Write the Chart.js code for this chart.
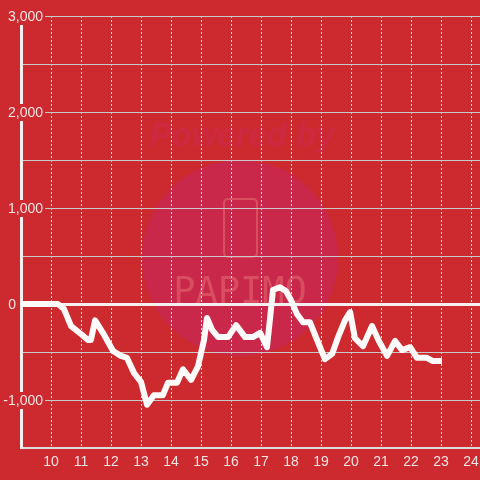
<!DOCTYPE html>
<html>
<head>
<meta charset="utf-8">
<script src="https://cdn.jsdelivr.net/npm/chart.js@4"></script>
<style>
  html, body { margin: 0; padding: 0; background: #cc2a2e; }
  #wrap { width: 480px; height: 480px; }
</style>
</head>
<body>
<div id="wrap"><canvas id="balanceChart" width="480" height="480"></canvas></div>
<script>
// values
var hours = [9.0, 10.23, 10.43, 10.67, 11.03, 11.23, 11.33, 11.47, 11.73, 12.07, 12.33, 12.53, 12.77, 13.0,
    13.2, 13.43, 13.73, 13.9, 14.2, 14.4, 14.67, 14.9, 15.1, 15.2, 15.37, 15.57, 15.9, 16.17, 16.47, 16.73,
    16.97, 17.2, 17.4, 17.63, 17.83, 18.0, 18.2, 18.4, 18.63, 18.87, 19.13, 19.37, 19.57, 19.8, 19.97, 20.13,
    20.4, 20.7, 20.93, 21.2, 21.47, 21.7, 21.97, 22.2, 22.53, 22.73, 23.03];
var balance = [0, 0, -50, -230, -320, -375, -375, -170, -300, -490, -540, -560, -720, -810,
    -1050, -950, -950, -820, -820, -680, -790, -650, -375, -145, -270, -345, -345, -220, -345, -345,
    -300, -450, 145, 175, 135, 40, -105, -190, -190, -375, -575, -520, -345, -170, -85, -355,
    -440, -230, -385, -540, -385, -480, -450, -560, -560, -595, -595];
var xTicks = [10, 11, 12, 13, 14, 15, 16, 17, 18, 19, 20, 21, 22, 23, 24];
var yTicks = [-1500, -1000, -500, 0, 500, 1000, 1500, 2000, 2500, 3000];
var yLabels = [-1000, 0, 1000, 2000, 3000];

var points = hours.map(function(h, i) { return { x: h, y: balance[i] }; });
var bg = '#cc2a2e';
var tickColor = '#f3e4e4';
var tickFont = '14px "Liberation Sans", Arial';

// background + faint watermark, drawn under the grid
var watermark = {
    id: 'watermark',
    beforeDraw: function(chart) {
        var c = chart.ctx;
        c.save();
        c.fillStyle = bg;
        c.fillRect(0, 0, chart.width, chart.height);
        c.fillStyle = '#c9284a';
        c.beginPath();
        c.arc(240, 258, 98, 0, Math.PI * 2);
        c.fill();
        c.fillStyle = '#cc2a40';
        c.font = 'italic bold 33px "Liberation Sans"';
        c.textAlign = 'center';
        c.textBaseline = 'alphabetic';
        c.fillText('Powered by', 242, 146);
        c.strokeStyle = 'rgba(222,92,104,0.75)';
        c.lineWidth = 2;
        c.beginPath();
        c.roundRect(224, 199, 33, 58, 4);
        c.stroke();
        c.fillStyle = 'rgba(222,92,104,0.7)';
        c.font = '37px "DejaVu Sans Mono"';
        c.fillText('PAPIMO', 240, 303);
        c.restore();
    }
};

// y labels sit across the axis line with a background patch behind them
var yLabelPlugin = {
    id: 'yLabels',
    afterDraw: function(chart) {
        var c = chart.ctx;
        var s = chart.scales.y;
        c.save();
        c.font = tickFont;
        c.textAlign = 'right';
        c.textBaseline = 'middle';
        yLabels.forEach(function(v) {
            var txt = v.toLocaleString('en-US');
            var y = s.getPixelForValue(v) + 1;
            var right = v === 0 ? 16 : 43;
            var w = c.measureText(txt).width;
            c.fillStyle = bg;
            c.fillRect(right - w - 2, y - 9, w + 4, 17);
            c.fillStyle = tickColor;
            c.fillText(txt, right, y);
        });
        c.restore();
    }
};

new Chart(document.getElementById('balanceChart').getContext('2d'), {
    type: 'line',
    data: {
        datasets: [{
            label: 'Balance',
            data: points,
            borderColor: '#fdfafa',
            borderWidth: 6,
            borderJoinStyle: 'round',
            pointRadius: 0,
            tension: 0,
            fill: false
        }]
    },
    options: {
        responsive: false,
        animation: false,
        layout: { padding: { top: 16, right: 0, bottom: 0, left: 0 } },
        plugins: { legend: { display: false }, tooltip: { enabled: false } },
        scales: {
            x: {
                type: 'linear',
                min: 9,
                max: 24.3,
                afterBuildTicks: function(scale) {
                    scale.ticks = xTicks.map(function(v) { return { value: v }; });
                },
                afterFit: function(scale) {
                    scale.height = 32;
                    scale.paddingLeft = 0;
                    scale.paddingRight = 0;
                },
                grid: {
                    color: 'rgba(255,255,255,0.85)',
                    lineWidth: 1,
                    drawTicks: false
                },
                border: { display: true, color: '#dcdcdc', width: 2, dash: [2, 2] },
                ticks: {
                    color: tickColor,
                    font: { family: '"Liberation Sans", Arial', size: 14 },
                    padding: 6,
                    maxRotation: 0,
                    callback: function(v) { return String(v); }
                }
            },
            y: {
                min: -1500,
                max: 3000,
                afterBuildTicks: function(scale) {
                    scale.ticks = yTicks.map(function(v) { return { value: v }; });
                },
                afterFit: function(scale) {
                    scale.width = 21;
                    scale.paddingTop = 0;
                    scale.paddingBottom = 0;
                },
                grid: {
                    color: function(ctx) { return ctx.tick && ctx.tick.value === 0 ? '#f4f0f0' : '#c9c9c9'; },
                    lineWidth: function(ctx) { return ctx.tick && ctx.tick.value === 0 ? 3 : 1; },
                    drawTicks: false
                },
                border: { display: true, color: '#f2f0f0', width: 3 },
                ticks: { display: false }
            }
        }
    },
    plugins: [watermark, yLabelPlugin]
});
</script>
</body>
</html>
